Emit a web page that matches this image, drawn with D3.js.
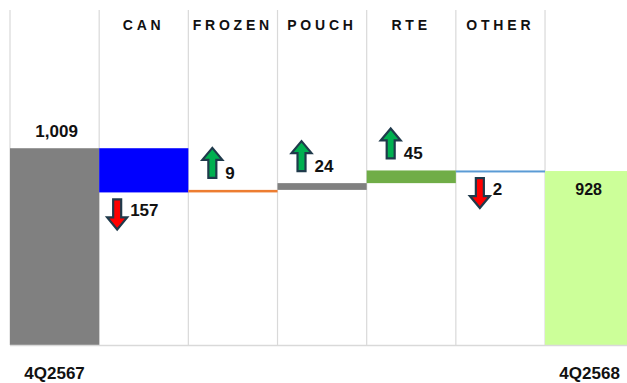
<!DOCTYPE html>
<html>
<head>
<meta charset="utf-8">
<script src="https://cdn.jsdelivr.net/npm/d3@7"></script>
<style>
  html, body { margin: 0; padding: 0; background: #fff; }
  svg { display: block; }
  text { font-family: "Liberation Sans", Arial, sans-serif; font-weight: bold; fill: #111; }
</style>
</head>
<body>
<svg id="chart" width="627" height="383"></svg>
<script>
// ---- data ----
const categories = ["4Q2567", "CAN", "FROZEN", "POUCH", "RTE", "OTHER", "4Q2568"];
const values = [1009, -157, 9, 24, 45, -2, 928];
const kinds = ["total", "delta", "delta", "delta", "delta", "delta", "total"];
const headerLabels = ["", "CAN", "FROZEN", "POUCH", "RTE", "OTHER", ""];
const bottomLabels = ["4Q2567", "", "", "", "", "", "4Q2568"];

// ---- styles ----
const barColors = ["#808080", "#0000ff", "#ed7d31", "#808080", "#70ad47", "#5b9bd5", "#ccff99"];
const gridColor = "#d9d9d9";

const W = 627, H = 383;
const svg = d3.select("#chart");

const x = d3.scaleBand().domain(categories).range([10, 634.2]).padding(0);
const y = d3.scaleLinear().domain([310, 1500]).range([345, 10]);

// compute waterfall segments
let running = 0;
const segs = categories.map((c, i) => {
  let start, end;
  if (kinds[i] === "total") { start = y.domain()[0]; end = values[i]; running = values[i]; }
  else { start = running; end = running + values[i]; running = end; }
  return { cat: c, i, start, end, value: values[i], kind: kinds[i] };
});

// gridlines (vertical category separators)
const edges = categories.map(c => x(c));
svg.append("g").selectAll("line").data(edges).join("line")
  .attr("x1", d => d).attr("x2", d => d)
  .attr("y1", y(1500)).attr("y2", y(310))
  .attr("stroke", gridColor).attr("stroke-width", 1.2);

// bars
svg.append("g").selectAll("rect").data(segs).join("rect")
  .attr("x", d => x(d.cat))
  .attr("width", x.bandwidth())
  .attr("y", d => y(Math.max(d.start, d.end)))
  .attr("height", d => Math.max(Math.abs(y(d.start) - y(d.end)), 2))
  .attr("fill", (d, i) => barColors[i]);

// baseline
svg.append("line")
  .attr("x1", 10).attr("x2", W)
  .attr("y1", y(310) + 0.5).attr("y2", y(310) + 0.5)
  .attr("stroke", gridColor).attr("stroke-width", 1.5);

// header labels
const ls = 3.8;
svg.append("g").selectAll("text").data(categories.filter((c, i) => headerLabels[i])).join("text")
  .attr("x", c => x(c) + x.bandwidth() / 2 + ls / 2 - 2)
  .attr("y", 29.5)
  .attr("text-anchor", "middle")
  .style("font-size", "14px")
  .style("letter-spacing", ls + "px")
  .text(c => headerLabels[categories.indexOf(c)]);

// bottom labels
svg.append("g").selectAll("text").data(categories.filter((c, i) => bottomLabels[i])).join("text")
  .attr("x", c => x(c) + x.bandwidth() / 2)
  .attr("y", 379)
  .attr("text-anchor", "middle")
  .style("font-size", "17px")
  .text(c => bottomLabels[categories.indexOf(c)]);

// total value labels
const fmt = d3.format(",");
const totals = segs.filter(d => d.kind === "total");
svg.append("g").selectAll("text").data(totals).join("text")
  .attr("x", d => x(d.cat) + x.bandwidth() / 2 + (d.i === 0 ? 2 : -1))
  .attr("y", d => d.i === 0 ? y(d.end) - 11 : y(d.end) + 24)
  .attr("text-anchor", "middle")
  .style("font-size", d => d.i === 0 ? "17px" : "16px")
  .text(d => fmt(d.value));

// arrows for deltas
const deltas = segs.filter(d => d.kind === "delta");
const aw = 20, ah = 30, sw = 8, hh = 12;
function arrowPath(x0, yTop, up) {
  const l = x0 + (aw - sw) / 2, r = x0 + (aw + sw) / 2, m = x0 + aw / 2;
  if (up) {
    const yb = yTop + ah, yh = yTop + hh;
    return `M${l},${yb}L${l},${yh}L${x0},${yh}L${m},${yTop}L${x0 + aw},${yh}L${r},${yh}L${r},${yb}Z`;
  } else {
    const yb = yTop + ah, yh = yb - hh;
    return `M${l},${yTop}L${l},${yh}L${x0},${yh}L${m},${yb}L${x0 + aw},${yh}L${r},${yh}L${r},${yTop}Z`;
  }
}
const ann = svg.append("g").selectAll("g").data(deltas).join("g");
ann.each(function(d) {
  const g = d3.select(this);
  const up = d.value > 0;
  const barTop = y(Math.max(d.start, d.end));
  const barBot = y(Math.min(d.start, d.end));
  const ax = x(d.cat) + (d.cat === "CAN" ? 8 : 14);
  const aTop = up ? barTop - 12 - ah : barBot + 7;
  g.append("path")
    .attr("d", arrowPath(ax, aTop, up))
    .attr("fill", up ? "#00b050" : "#ff0000")
    .attr("stroke", "#1f3a4b")
    .attr("stroke-width", 2.2)
    .attr("stroke-linejoin", "miter");
  g.append("text")
    .attr("x", ax + aw + 3)
    .attr("y", up ? aTop + ah + 1 : aTop + 17)
    .style("font-size", "17px")
    .text(Math.abs(d.value));
});
</script>
</body>
</html>
